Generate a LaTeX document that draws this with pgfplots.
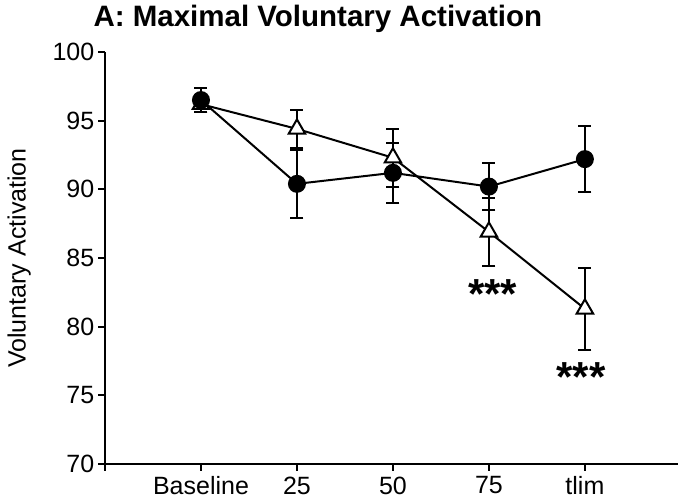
\documentclass[border=0pt]{standalone}
\usepackage{fontspec}
\setmainfont{Liberation Sans}
\usepackage{pgfplots}
\pgfplotsset{compat=1.18}
\begin{document}
\begin{tikzpicture}
\begin{axis}[
  name=ax, at={(0,0)}, anchor=south west,
  scale only axis, width=573bp, height=412bp,
  xmin=0, xmax=5.97, ymin=70, ymax=100,
  axis lines*=left,
  clip=false,
  xtick={0,1,2,3,4,5}, xticklabels={,Baseline,25,50,75,tlim},
  ytick={70,75,80,85,90,95,100},
  tick align=outside, major tick length=6.5bp,
  tick style={line width=2bp, black},
  axis line style={line width=2.2bp, black},
  /pgf/number format/assume math mode=true,
  ticklabel style={font=\fontsize{25bp}{28bp}\selectfont},
  yticklabel style={inner sep=0pt, xshift=-4bp},
  xticklabel style={inner sep=0pt, yshift=-6bp},
  ylabel={Voluntary Activation},
  ylabel style={font=\fontsize{25bp}{28bp}\selectfont, at={(axis description cs:-0.15,0.5)}, anchor=center},
]
\addplot[black, line width=2bp, mark=triangle*, mark size=9.5bp,
  mark options={fill=white, line width=2bp},
  error bars/.cd, y dir=both, y explicit,
  error bar style={line width=2bp},
  error mark options={rotate=90, mark size=6.5bp, line width=2bp}]
  table[x=x, y=y, y error=e] {
x y e
1 96.2 0.6
2 94.4 1.4
3 92.3 2.1
4 86.9 2.5
5 81.3 3.0
};
\addplot[black, line width=2bp, mark=*, mark size=8bp,
  mark options={fill=black},
  error bars/.cd, y dir=both, y explicit,
  error bar style={line width=2bp},
  error mark options={rotate=90, mark size=6.5bp, line width=2bp}]
  table[x=x, y=y, y error=e] {
x y e
1 96.5 0.9
2 90.4 2.5
3 91.2 2.2
4 90.2 1.7
5 92.2 2.4
};
\node[font=\fontsize{42bp}{44bp}\selectfont\bfseries] at (axis cs:4.04,82.35) {***};
\node[font=\fontsize{42bp}{44bp}\selectfont\bfseries] at (axis cs:4.96,76.3) {***};
\end{axis}
\node[anchor=base west, font=\fontsize{29.5bp}{32bp}\selectfont\bfseries] at (-15bp,437bp) {A: Maximal Voluntary Activation};
\pgfresetboundingbox
\path (-105bp,-39bp) rectangle (573bp,464bp);
\end{tikzpicture}
\end{document}
